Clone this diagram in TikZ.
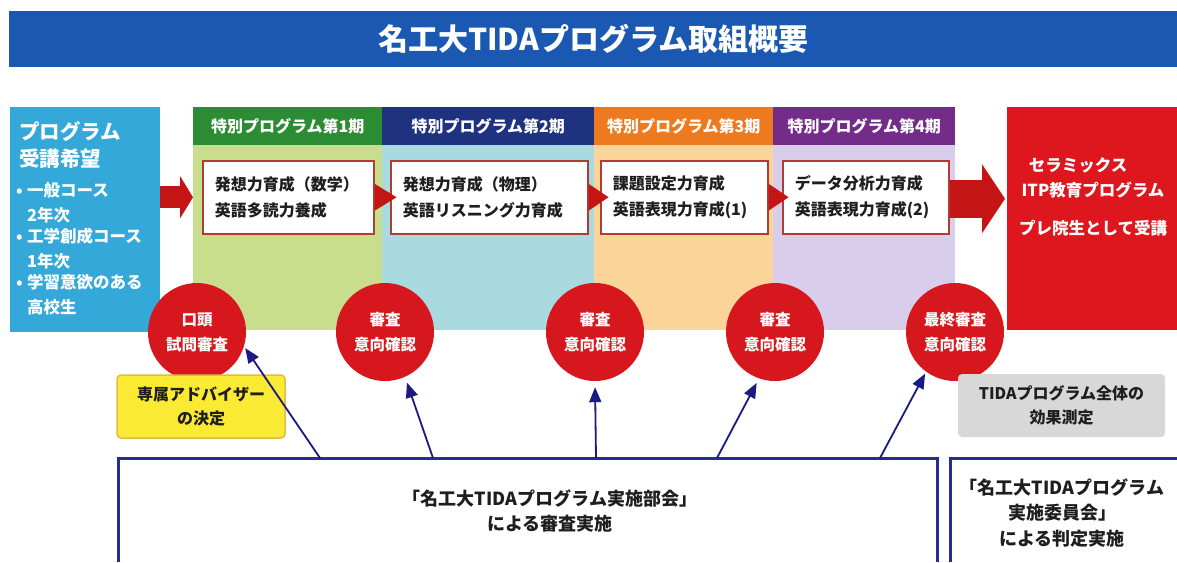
\documentclass[tikz,border=0pt]{standalone}
\usepackage{fontspec}
\setmainfont{Noto Sans CJK JP}
\usetikzlibrary{arrows.meta}
\newcommand{\setfs}[2]{\fontsize{#1}{#2}\selectfont}
\definecolor{titleblue}{RGB}{26,88,178}
\definecolor{entrycyan}{RGB}{52,168,216}
\definecolor{ponehead}{RGB}{44,140,52}
\definecolor{ponebody}{RGB}{200,222,140}
\definecolor{ptwohead}{RGB}{30,50,128}
\definecolor{ptwobody}{RGB}{168,218,224}
\definecolor{pthreehead}{RGB}{238,122,32}
\definecolor{pthreebody}{RGB}{250,212,152}
\definecolor{pfourhead}{RGB}{116,44,138}
\definecolor{pfourbody}{RGB}{216,206,236}
\definecolor{finalred}{RGB}{222,22,30}
\definecolor{circred}{RGB}{214,24,30}
\definecolor{arrowred}{RGB}{196,20,20}
\definecolor{kborder}{RGB}{176,60,50}
\definecolor{navyarrow}{RGB}{26,26,130}
\definecolor{boxnavy}{RGB}{40,44,140}
\definecolor{yelfill}{RGB}{250,234,52}
\definecolor{yelborder}{RGB}{226,186,70}
\definecolor{grayfill}{RGB}{216,216,216}
\definecolor{txt}{RGB}{30,30,30}
\begin{document}
\begin{tikzpicture}[x=1pt,y=-1pt,
  hdr/.style={anchor=north west, inner sep=0pt, minimum height=38pt, text=white, font=\setfs{16}{20}\bfseries},
  phasebody/.style={anchor=north west, inner sep=0pt, minimum height=185pt},
  kbox/.style={anchor=north west, draw=kborder, line width=1.5pt, fill=white, minimum height=73pt, inner xsep=12pt, inner ysep=0pt, align=left, text=txt, font=\setfs{16}{26}\bfseries},
  kstep/.style={fill=arrowred},
  judge/.style={circle, fill=circred, minimum size=98pt, inner sep=0pt, align=center, text=white, font=\setfs{15.5}{25}\bfseries},
  barrow/.style={draw=navyarrow, line width=1.8pt, -{Triangle[length=15pt,width=12pt]}},
  fatarrow/.style={draw=arrowred},
  notebox/.style={rounded corners=4pt, inner sep=0pt, align=center, text=txt, font=\setfs{16}{23.5}\bfseries},
  wtext/.style={text=white, inner sep=0pt, font=\bfseries},
  btext/.style={text=txt, inner sep=0pt, align=center, font=\setfs{18}{25.5}\bfseries}
]
\useasboundingbox (0,0) rectangle (1177,562);
\fill[white] (0,0) rectangle (1177,562);

% title bar
\node[fill=titleblue, anchor=north west, inner sep=0pt, minimum width=1168pt, minimum height=56pt,
  text=white, font=\setfs{30}{36}\bfseries] (title) at (9,11) {名工大TIDAプログラム取組概要};

% entry box
\node[fill=entrycyan, anchor=north west, inner sep=0pt, minimum width=150pt, minimum height=225pt] (entry) at (10,107) {};
\node[wtext, anchor=west, align=left, font=\setfs{20.5}{27}\bfseries] (entryhead) at (19,144.5) {プログラム\\受講希望};
\node[wtext, anchor=west, align=left, font=\setfs{16.5}{21}\bfseries] (entrylist) at (16,249)
  {\makebox[11pt][l]{•}一般コース\\[4pt]\makebox[11pt][l]{}2年次\\\makebox[11pt][l]{•}工学創成コース\\[4pt]\makebox[11pt][l]{}1年次\\\makebox[11pt][l]{•}学習意欲のある\\[4pt]\makebox[11pt][l]{}高校生};

% phase bodies
\node[phasebody, fill=ponebody, minimum width=189pt] (b1) at (193,145) {};
\node[phasebody, fill=ptwobody, minimum width=212pt] (b2) at (382,145) {};
\node[phasebody, fill=pthreebody, minimum width=179pt] (b3) at (594,145) {};
\node[phasebody, fill=pfourbody, minimum width=182pt] (b4) at (773,145) {};

% phase headers
\node[hdr, fill=ponehead, minimum width=189pt] (h1) at (193,107) {特別プログラム第1期};
\node[hdr, fill=ptwohead, minimum width=212pt] (h2) at (382,107) {特別プログラム第2期};
\node[hdr, fill=pthreehead, minimum width=179pt] (h3) at (594,107) {特別プログラム第3期};
\node[hdr, fill=pfourhead, minimum width=182pt] (h4) at (773,107) {特別プログラム第4期};

% content boxes
\node[kbox, text width=147pt] (k1) at (202,160) {発想力育成（数学）\\英語多読力養成};
\node[kbox, text width=173pt] (k2) at (390,160) {発想力育成（物理）\\英語リスニング力育成};
\node[kbox, text width=143pt] (k3) at (600,160) {課題設定力育成\\英語表現力育成(1)};
\node[kbox, text width=142pt] (k4) at (782,160) {データ分析力育成\\英語表現力育成(2)};

% final red box
\node[fill=finalred, anchor=north west, inner sep=0pt, minimum width=170pt, minimum height=223pt] (final) at (1007,107) {};
\node[wtext, align=center, font=\setfs{16.5}{25}\bfseries] (finaltext) at (1093,196.5)
  {セラミックス\hspace*{30pt}\\ITP教育プログラム\\[13pt]プレ院生として受講};

% red arrows between stages
\draw[fatarrow, line width=22pt, -{Triangle[length=13pt,width=42pt]}, shorten >=9pt] (entry.east |- k1.west) -- (k1.west);
\fill[kstep] (k1.east) ++(0,-13.5) -- ++(22,13.5) -- ++(-22,13.5) -- cycle;
\fill[kstep] (k2.east) ++(0,-13.5) -- ++(20,13.5) -- ++(-20,13.5) -- cycle;
\fill[kstep] (k3.east) ++(0,-13.5) -- ++(20,13.5) -- ++(-20,13.5) -- cycle;
\draw[fatarrow, line width=38pt, -{Triangle[length=23pt,width=68pt]}, shorten >=2pt] ([yshift=-1.5pt]k4.east) -- ([yshift=-1.5pt]k4.east -| final.west);

% judgement circles
\node[judge] (c1) at (197,332) {口頭\\試問審査};
\node[judge] (c2) at (385,332) {審査\\意向確認};
\node[judge] (c3) at (595,332) {審査\\意向確認};
\node[judge] (c4) at (775,332) {審査\\意向確認};
\node[judge] (c5) at (955,332) {最終審査\\意向確認};

% notes
\node[notebox, draw=yelborder, line width=1.5pt, fill=yelfill, minimum width=168pt, minimum height=63pt] (advisor) at (201,406.5) {専属アドバイザー\\の決定};
\node[notebox, fill=grayfill, minimum width=207pt, minimum height=63pt] (effect) at (1061.5,405.5) {TIDAプログラム全体の\\効果測定};

% committee boxes
\coordinate (bbl) at (118,562);
\coordinate (bbtl) at (118,458);
\coordinate (bbtr) at (937,458);
\coordinate (bbr) at (937,562);
\draw[boxnavy, line width=3pt] (bbl) -- (bbtl) -- (bbtr) -- (bbr);
\node[btext] (bigtext) at (550,511) {「名工大TIDAプログラム実施部会」\\による審査実施};
\coordinate (rbl) at (950,562);
\coordinate (rbtl) at (950,458);
\coordinate (rbtr) at (1177,458);
\draw[boxnavy, line width=3pt] (rbl) -- (rbtl) -- (rbtr);
\node[btext] (righttext) at (1062,513) {「名工大TIDAプログラム\\実施委員会」\\による判定実施};

% review arrows
\coordinate (s1) at (320,458);
\coordinate (s2) at (433,458);
\coordinate (s3) at (596,458);
\coordinate (s4) at (717,458);
\coordinate (s5) at (880,458);
\draw[barrow, shorten >=2pt] (s1) -- (c1.-17);
\draw[barrow, shorten >=6pt] (s2) -- (c2.-66);
\draw[barrow, shorten >=6pt] (s3) -- (c3.-90);
\draw[barrow, shorten >=5pt] (s4) -- (c4.-109);
\draw[barrow, shorten >=2pt] (s5) -- (c5.-126);
\end{tikzpicture}
\end{document}
